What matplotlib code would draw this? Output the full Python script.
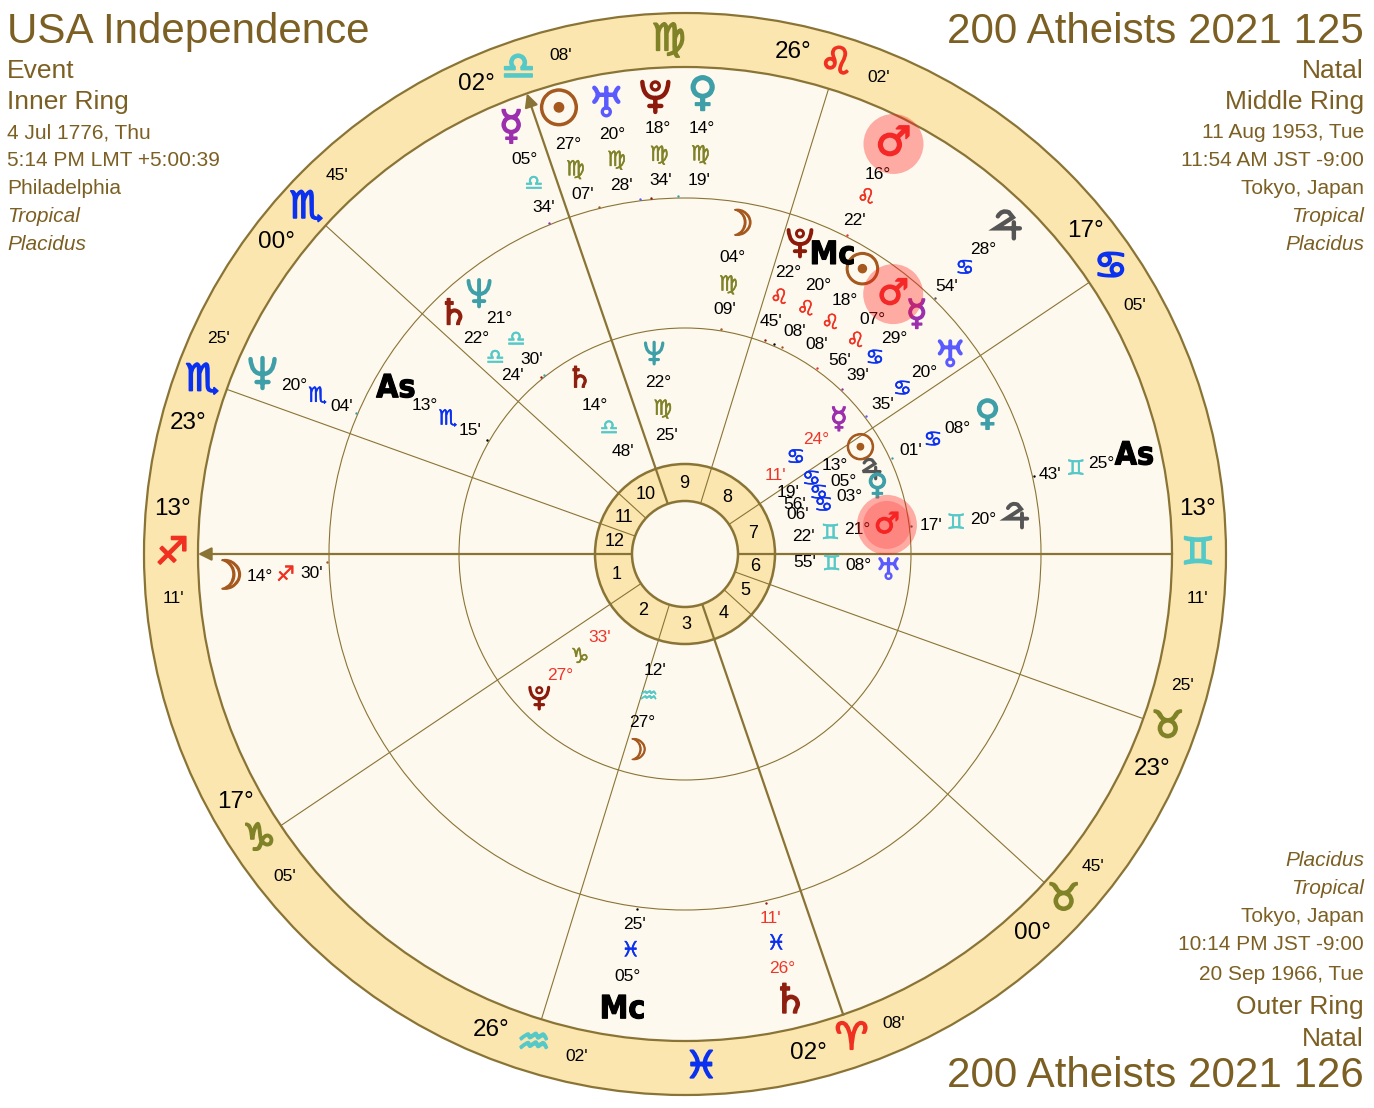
import numpy as np
import matplotlib
matplotlib.use('Agg')
import matplotlib.pyplot as plt
from matplotlib.patches import Circle, FancyArrowPatch, PathPatch
from matplotlib.path import Path
from matplotlib.transforms import Affine2D
import matplotlib.patheffects as pe

# signs and planets
sign_glyphs = ['♈', '♉', '♊', '♋', '♌', '♍', '♎', '♏', '♐', '♑', '♒', '♓']
planet_glyphs = {'Sun': '☉', 'Moon': '☽', 'Mercury': '☿', 'Venus': '♀', 'Mars': '♂', 'Saturn': '♄'}

# house cusps 1-12: degree, sign index, minute
cusp_deg = [13, 17, 26, 2, 0, 23, 13, 17, 26, 2, 0, 23]
cusp_sign = [8, 9, 10, 0, 1, 1, 2, 3, 4, 6, 7, 7]
cusp_min = [11, 5, 2, 8, 45, 25, 11, 5, 2, 8, 45, 25]

# outer ring
outer_names = ['Moon', 'Neptune', 'As', 'Mc', 'Saturn', 'Mercury', 'Sun', 'Uranus', 'Pluto', 'Venus', 'Mars', 'Jupiter']
outer_deg = [14, 20, 25, 5, 26, 5, 27, 20, 18, 14, 16, 28]
outer_sign = [8, 7, 2, 11, 11, 6, 5, 5, 5, 5, 4, 3]
outer_min = [30, 4, 43, 25, 11, 34, 7, 28, 34, 19, 22, 54]
outer_retro = [False, False, False, False, True, False, False, False, False, False, False, False]

# middle ring
middle_names = ['As', 'Mercury', 'Mars', 'Sun', 'Mc', 'Pluto', 'Moon', 'Uranus', 'Venus', 'Jupiter', 'Neptune', 'Saturn']
middle_deg = [13, 29, 7, 18, 20, 22, 4, 20, 8, 20, 21, 22]
middle_sign = [7, 3, 4, 4, 4, 4, 5, 3, 3, 2, 6, 6]
middle_min = [15, 39, 56, 8, 8, 45, 9, 35, 1, 17, 30, 24]
middle_retro = [False] * 12

# inner ring
inner_names = ['Neptune', 'Saturn', 'Mercury', 'Sun', 'Jupiter', 'Venus', 'Mars', 'Uranus', 'Pluto', 'Moon']
inner_deg = [22, 14, 24, 13, 5, 3, 21, 8, 27, 27]
inner_sign = [5, 6, 3, 3, 3, 3, 2, 2, 9, 10]
inner_min = [25, 48, 11, 19, 56, 6, 22, 55, 33, 12]
inner_retro = [False, False, True, False, False, False, False, False, True, False]

# angle on the page where each glyph column sits (spread apart so they do not collide)
outer_spread = [183.0, 156.7, 12.3, 262.2, 283.2, 112.2, 105.9, 99.85, 93.7, 87.8, 63.05, 45.6]
middle_spread = [150.25, 45.9, 51.3, 57.8, 63.7, 69.8, 80.85, 37.2, 24.7, 6.55, 128.2, 134.0]
inner_spread = [98.7, 121.1, 41.05, 30.7, 24.5, 19.4, 8.2, -3.95, 224.4, 255.7]

# text blocks
left_text = ['USA Independence', 'Event', 'Inner Ring', '4 Jul 1776, Thu', '5:14 PM LMT +5:00:39', 'Philadelphia', 'Tropical', 'Placidus']
right_text = ['200 Atheists 2021 125', 'Natal', 'Middle Ring', '11 Aug 1953, Tue', '11:54 AM JST -9:00', 'Tokyo, Japan', 'Tropical', 'Placidus']
bottom_text = ['Placidus', 'Tropical', 'Tokyo, Japan', '10:14 PM JST -9:00', '20 Sep 1966, Tue', 'Outer Ring', 'Natal', '200 Atheists 2021 126']

# colours
BAND = '#fbe6b0'
PAPER = '#fef9ee'
LINE = '#8a7435'
TITLE = '#7c5f22'
RETRO = '#f0352a'
sign_colors = ['#f03020', '#808228', '#55c8c8', '#0a30f0'] * 3
planet_colors = {'Sun': '#a5591e', 'Moon': '#a5591e', 'Mercury': '#9b2fae', 'Venus': '#3f9fa8',
                 'Mars': '#f03030', 'Jupiter': '#555555', 'Saturn': '#8f2010', 'Uranus': '#5a5aff',
                 'Neptune': '#3f9fa8', 'Pluto': '#8b1a0a', 'As': 'black', 'Mc': 'black'}

# glyph outlines DejaVu draws in another form
M, L, C = Path.MOVETO, Path.LINETO, Path.CURVE3
shapes = {
    'Jupiter': Path([(-9, 9), (-5, 16), (2, 13), (6, 8), (-11, -3), (13, -3), (7, 3), (7, -13)],
                    [M, C, C, L, L, L, M, L]),
    'Uranus': Path([(-12, 13), (-5, 6), (-12, -1), (12, 13), (5, 6), (12, -1), (-8, 6), (8, 6), (0, 13), (0, -7)],
                   [M, C, C, M, C, C, M, L, M, L]),
    'Pluto': Path([(-13, 13), (-12, -3), (0, -3), (12, -3), (13, 13), (0, -3), (0, -17), (-6, -11), (6, -11)],
                  [M, C, C, C, C, M, L, M, L]),
    'Neptune': Path([(-12, 13), (-11, -2), (0, -2), (11, -2), (12, 13), (0, 14), (0, -16), (-6, -10), (6, -10)],
                    [M, C, C, C, C, M, L, M, L]),
}

plt.rcParams['font.family'] = ['Liberation Sans', 'DejaVu Sans']

asc_lon = cusp_sign[0] * 30 + cusp_deg[0] + cusp_min[0] / 60


def page_angle(sign, deg, minute):
    return 180 + sign * 30 + deg + minute / 60 - asc_lon


def polar(angle, r):
    return r * np.cos(np.radians(angle)), r * np.sin(np.radians(angle))


def draw_glyph(x, y, name, col, scale):
    if name in ('As', 'Mc'):
        ax.text(x, y, name, fontsize=23, fontweight='bold', stretch='condensed', color='black', ha='center',
                va='center', family=['DejaVu Sans'], zorder=7,
                path_effects=[pe.withStroke(linewidth=0.8, foreground='black')])
    elif name in shapes:
        tr = Affine2D().scale(scale).translate(x, y) + ax.transData
        ax.add_patch(PathPatch(shapes[name], fc='none', ec=col, lw=3.2 * scale, capstyle='round', transform=tr, zorder=7))
        if name == 'Uranus':
            ax.add_patch(Circle((x, y - 11 * scale), 4 * scale, fc='none', ec=col, lw=2.4 * scale, zorder=7))
        if name == 'Pluto':
            ax.add_patch(Circle((x, y + 9 * scale), 4 * scale, fc='none', ec=col, lw=2.4 * scale, zorder=7))
    else:
        fs = 36 if name == 'Sun' else 29
        ax.text(x, y, planet_glyphs[name], fontsize=fs * scale, color=col, ha='center', va='center',
                family=['DejaVu Sans'], zorder=7,
                path_effects=[pe.withStroke(linewidth=1.2 * scale, foreground=col)])


fig = plt.figure(figsize=(13.74, 11.08), dpi=100)
ax = fig.add_axes([0, 0, 1, 1])
ax.set_xlim(-685, 689)
ax.set_ylim(-554, 554)
ax.axis('off')

# rings
ax.add_patch(Circle((0, 0), 541, fc=BAND, ec=LINE, lw=1.6, zorder=1))
ax.add_patch(Circle((0, 0), 487, fc=PAPER, ec=LINE, lw=1.6, zorder=2))
ax.add_patch(Circle((0, 0), 356, fc='none', ec=LINE, lw=0.8, zorder=3))
ax.add_patch(Circle((0, 0), 226, fc='none', ec=LINE, lw=0.8, zorder=3))
ax.add_patch(Circle((0, 0), 90, fc=BAND, ec=LINE, lw=1.8, zorder=3))
ax.add_patch(Circle((0, 0), 53, fc=PAPER, ec=LINE, lw=1.8, zorder=5))

# cusps
cusp_angles = [page_angle(s, d, m) for s, d, m in zip(cusp_sign, cusp_deg, cusp_min)]
for i, a in enumerate(cusp_angles):
    x0, y0 = polar(a, 53)
    x1, y1 = polar(a, 487)
    if i in (0, 9):
        ax.add_patch(FancyArrowPatch((x0, y0), (x1, y1), arrowstyle='-|>', mutation_scale=20, lw=1.6,
                                     color=LINE, shrinkA=0, shrinkB=0, zorder=4))
    else:
        ax.plot([x0, x1], [y0, y1], color=LINE, lw=1.6 if i in (3, 6) else 0.8, zorder=4)

    # house number
    nxt = cusp_angles[(i + 1) % 12]
    mid = a + ((nxt - a) % 360) / 2
    x, y = polar(mid, 71)
    ax.text(x, y, str(i + 1), fontsize=13, color='black', ha='center', va='center', zorder=6)

    # cusp label in the band
    a0 = a % 360
    off = 5 if a0 < 180 else -5
    x, y = polar(a0 + off, 514)
    ax.text(x, y, f'{cusp_deg[i]:02d}°', fontsize=17.5, ha='center', va='center', zorder=6)
    x, y = polar(a0 - off, 514)
    ax.text(x, y, f"{cusp_min[i]:02d}'", fontsize=12.5, ha='center', va='center', zorder=6)
    x, y = polar(a0, 513)
    ax.text(x, y, sign_glyphs[cusp_sign[i]], fontsize=27, color=sign_colors[cusp_sign[i]],
            ha='center', va='center', family=['DejaVu Sans'], zorder=6,
            path_effects=[pe.withStroke(linewidth=1.3, foreground=sign_colors[cusp_sign[i]])])

# signs that hold no cusp sit at their middle
for s in range(12):
    if s not in cusp_sign:
        x, y = polar(page_angle(s, 15, 0), 514)
        ax.text(x, y, sign_glyphs[s], fontsize=27, color=sign_colors[s], ha='center', va='center',
                family=['DejaVu Sans'], zorder=6,
                path_effects=[pe.withStroke(linewidth=1.3, foreground=sign_colors[s])])


def draw_ring(names, degs, signs, mins, retros, spread, radii, tick_r, scale):
    for n, d, s, m, rt, a in zip(names, degs, signs, mins, retros, spread):
        col = planet_colors[n]
        x, y = polar(a, radii[0])
        draw_glyph(x, y, n, col, scale)
        if n == 'Mars':
            ax.add_patch(Circle((x, y), 30, fc=(1, 0.1, 0.1), ec='none', alpha=0.35, zorder=8))
            if tick_r is None:
                ax.add_patch(Circle((x, y), 24, fc=(1, 0.1, 0.1), ec='none', alpha=0.25, zorder=8))
        txt_col = RETRO if rt else 'black'
        x, y = polar(a, radii[1])
        ax.text(x, y, f'{d:02d}°', fontsize=12.5, color=txt_col, ha='center', va='center', zorder=7)
        x, y = polar(a, radii[2])
        ax.text(x, y, sign_glyphs[s], fontsize=15, color=sign_colors[s], ha='center', va='center',
                family=['DejaVu Sans'], zorder=7,
                path_effects=[pe.withStroke(linewidth=0.4, foreground=sign_colors[s])])
        x, y = polar(a, radii[3])
        ax.text(x, y, f"{m:02d}'", fontsize=12.5, color=txt_col, ha='center', va='center', zorder=7)
        if tick_r is not None:
            x, y = polar(page_angle(s, d, m), tick_r)
            ax.scatter([x], [y], s=3, color=col, linewidths=0, zorder=7)


draw_ring(outer_names, outer_deg, outer_sign, outer_min, outer_retro, outer_spread, (460, 426, 400, 374), 358, 1.0)
draw_ring(middle_names, middle_deg, middle_sign, middle_min, middle_retro, middle_spread, (333, 300, 273, 248), 228, 0.88)
draw_ring(inner_names, inner_deg, inner_sign, inner_min, inner_retro, inner_spread, (204, 174, 147, 120), None, 0.72)

# corner text
top_rows = [32, 71, 102, 133, 161, 189, 217, 245]
bottom_rows = [861, 889, 917, 945, 975, 1007, 1039, 1076]
top_sizes = [30.3, 19, 19, 15, 15, 15, 15, 15]
top_style = ['normal'] * 6 + ['italic', 'italic']


def corner(lines, rows, sizes, styles, x, ha):
    for t, r, fs, st in zip(lines, rows, sizes, styles):
        ax.text(x, 554 - r, t, fontsize=fs, style=st, color=TITLE, ha=ha, va='center', zorder=9)


corner(left_text, top_rows, top_sizes, top_style, -678, 'left')
corner(right_text, top_rows, top_sizes, top_style, 679, 'right')
corner(bottom_text, bottom_rows, top_sizes[::-1], top_style[::-1], 679, 'right')

fig.savefig('out.png', dpi=100, facecolor='white')
